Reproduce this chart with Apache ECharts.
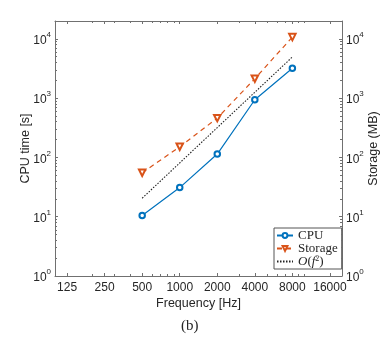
<!DOCTYPE html>
<html>
<head>
<meta charset="utf-8">
<script src="https://cdn.jsdelivr.net/npm/echarts@6/dist/echarts.min.js"></script>
<style>html,body{margin:0;padding:0;background:#fff}#c{width:392px;height:343px}</style>
</head>
<body>
<div id="c"></div>
<script>
// ---- data ----
const freqs = [500, 1000, 2000, 4000, 8000];
const cpuTime = [10.5, 31, 114, 940, 3200];
const storage = [55, 151, 460, 2130, 10700];
const refFreqs = [500, 8000];
const refVals = [20.5, 4950];
const xTickLabels = [125, 250, 500, 1000, 2000, 4000, 8000, 16000];
const yTicks = [1, 10, 100, 1000, 10000];
const xMinor = [200, 300, 400, 600, 700, 800, 900, 3000, 5000, 6000, 7000, 9000, 10000];
const yMinor = [];
[1, 10, 100, 1000, 10000].forEach(d => { [2,3,4,5,6,7,8,9].forEach(m => { if (m * d < 20000) yMinor.push(m * d); }); });

const axisColor = '#707070';
const textColor = '#262626';
const sans = 'Liberation Sans';
const serif = 'Liberation Serif';

function xAxisBase(pos, ticks, len, showLine, labels) {
  return {
    type: 'log', logBase: 2, min: 100, max: 20000, position: pos,
    axisLine: { show: showLine, onZero: false, lineStyle: { color: axisColor, width: 1 } },
    axisTick: { show: true, inside: true, length: len, customValues: ticks, lineStyle: { color: axisColor } },
    axisLabel: labels ? { show: true, customValues: ticks, margin: 6, color: textColor, fontFamily: sans, fontSize: 12, formatter: v => String(Math.round(v)) } : { show: false },
    splitLine: { show: false }, minorTick: { show: false }, minorSplitLine: { show: false }
  };
}
function yAxisBase(pos, ticks, len, showLine, labels) {
  return {
    type: 'log', logBase: 10, min: 1, max: 20000, position: pos,
    axisLine: { show: showLine, onZero: false, lineStyle: { color: axisColor, width: 1 } },
    axisTick: { show: true, inside: true, length: len, customValues: ticks, lineStyle: { color: axisColor } },
    axisLabel: labels ? {
      show: true, customValues: ticks, margin: 4,
      formatter: v => '{b|10}{s|' + Math.round(Math.log10(v)) + '}',
      rich: {
        b: { fontFamily: sans, fontSize: 12, color: textColor, lineHeight: 16, verticalAlign: 'bottom' },
        s: { fontFamily: sans, fontSize: 8, color: textColor, lineHeight: 16, verticalAlign: 'top' }
      }
    } : { show: false },
    splitLine: { show: false }, minorTick: { show: false }, minorSplitLine: { show: false }
  };
}

const xAxes = [
  Object.assign(xAxisBase('bottom', xTickLabels, 3, true, true), {
    name: 'Frequency [Hz]', nameLocation: 'middle', nameGap: 21, nameMoveOverlap: false,
    nameTextStyle: { color: textColor, fontFamily: sans, fontSize: 12.5, verticalAlign: 'top' }
  }),
  xAxisBase('top', xTickLabels, 3, true, false),
  xAxisBase('bottom', xMinor, 2, false, false),
  xAxisBase('top', xMinor, 2, false, false)
];
const yAxes = [
  Object.assign(yAxisBase('left', yTicks, 3, true, true), {
    name: 'CPU time [s]', nameLocation: 'middle', nameGap: 29, nameRotate: 90, nameMoveOverlap: false,
    nameTextStyle: { color: textColor, fontFamily: sans, fontSize: 12.5, verticalAlign: 'middle' }
  }),
  Object.assign(yAxisBase('right', yTicks, 3, true, true), {
    name: 'Storage (MB)', nameLocation: 'middle', nameGap: 32, nameRotate: 90, nameMoveOverlap: false,
    nameTextStyle: { color: textColor, fontFamily: sans, fontSize: 12.5, verticalAlign: 'middle' }
  }),
  yAxisBase('left', yMinor, 2, false, false),
  yAxisBase('right', yMinor, 2, false, false)
];

const chart = echarts.init(document.getElementById('c'), null, { renderer: 'canvas' });
chart.setOption({
  animation: false,
  backgroundColor: '#fff',
  grid: { left: 55, top: 21, right: 50, bottom: 67, containLabel: false, show: false },
  xAxis: xAxes,
  yAxis: yAxes,
  legend: {
    orient: 'vertical', left: 274, top: 228,
    backgroundColor: '#fff', borderColor: '#555', borderWidth: 1, borderRadius: 0,
    padding: [1, 4, 1, 2], itemGap: 0, itemWidth: 16, itemHeight: 6,
    textStyle: {
      fontFamily: serif, fontSize: 13, color: textColor, lineHeight: 13,
      rich: {
        i: { fontFamily: serif, fontStyle: 'italic', fontSize: 13, color: textColor, lineHeight: 13 },
        o: { fontFamily: serif, fontStyle: 'italic', fontSize: 13, color: textColor, lineHeight: 13 },
        s: { fontFamily: serif, fontSize: 8, color: textColor, verticalAlign: 'top', lineHeight: 13 }
      }
    },
    formatter: n => n === 'ref' ? '{o|O}({i|f}{s|2})' : n,
    data: ['CPU', 'Storage', { name: 'ref', itemStyle: { opacity: 0 } }]
  },
  series: [
    {
      name: 'CPU', type: 'line', xAxisIndex: 0, yAxisIndex: 0,
      data: freqs.map((f, i) => [f, cpuTime[i]]),
      symbol: 'emptyCircle', symbolSize: 5.5,
      lineStyle: { color: '#0072BD', width: 1.2 },
      itemStyle: { color: '#0072BD', borderWidth: 1 }
    },
    {
      name: 'Storage', type: 'line', xAxisIndex: 0, yAxisIndex: 1,
      data: freqs.map((f, i) => [f, storage[i]]),
      symbol: 'emptyTriangle', symbolRotate: 180, symbolSize: 6.5,
      lineStyle: { color: '#D95319', width: 1.2, type: [5, 4] },
      itemStyle: { color: '#D95319', borderWidth: 1 }
    },
    {
      name: 'ref', type: 'line', xAxisIndex: 0, yAxisIndex: 0,
      data: refFreqs.map((f, i) => [f, refVals[i]]),
      symbol: 'none',
      lineStyle: { color: '#222', width: 1.1, type: [1.5, 1.5] },
      itemStyle: { color: '#222' }
    }
  ],
  graphic: [{
    type: 'text', left: 181, top: 319,
    style: { text: '(b)', fontFamily: serif, fontSize: 15, fill: textColor }
  }]
});
</script>
</body>
</html>
